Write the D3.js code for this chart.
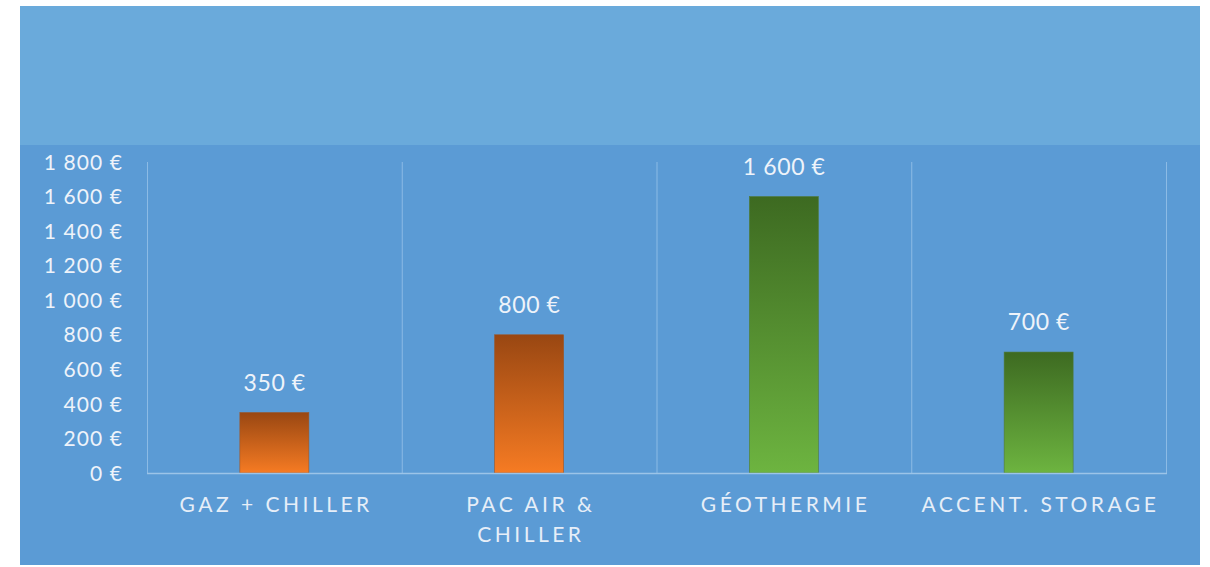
<!DOCTYPE html>
<html><head><meta charset="utf-8">
<script src="https://cdn.jsdelivr.net/npm/d3@7"></script>
<style>html,body{margin:0;padding:0;background:#fff;}svg{display:block;}</style>
</head><body>
<svg id="chart" width="1210" height="567"></svg>
<script>
const categories = [["GAZ + CHILLER"], ["PAC AIR &", "CHILLER"], ["GÉOTHERMIE"], ["ACCENT. STORAGE"]];
const values = [350, 800, 1600, 700];
const barColors = ["orange", "orange", "green", "green"];
const yTicks = [0, 200, 400, 600, 800, 1000, 1200, 1400, 1600, 1800];

const svg = d3.select("#chart");
const locale = d3.formatLocale({decimal: ",", thousands: " ", grouping: [3], currency: ["", " €"]});
const fmt = v => locale.format(",")(v) + " €";
const FONT = "Lato, 'Open Sans', sans-serif";

// backgrounds
svg.append("rect").attr("x", 20).attr("y", 6).attr("width", 1180).attr("height", 559).attr("fill", "#5b9bd5");
svg.append("rect").attr("x", 20).attr("y", 6).attr("width", 1180).attr("height", 139).attr("fill", "#6aaadb");

const defs = svg.append("defs");
const grads = {orange: ["#994712", "#f67b23"], green: ["#3d6a21", "#6db440"]};
Object.entries(grads).forEach(([k, c]) => {
  const g = defs.append("linearGradient").attr("id", "g-" + k).attr("x1", 0).attr("y1", 0).attr("x2", 0).attr("y2", 1);
  g.append("stop").attr("offset", "0%").attr("stop-color", c[0]);
  g.append("stop").attr("offset", "100%").attr("stop-color", c[1]);
});

const x0 = 147, x1 = 1166, yBottom = 473, yTop = 162;
const x = d3.scaleBand().domain(d3.range(categories.length)).range([x0, x1]).paddingInner(0).paddingOuter(0);
const y = d3.scaleLinear().domain([0, 1800]).range([yBottom, yTop]);

// vertical gridlines at category boundaries
const bounds = d3.range(categories.length + 1).map(i => x0 + i * x.step());
svg.append("g").selectAll("line").data(bounds).join("line")
  .attr("x1", d => d + 0.5).attr("x2", d => d + 0.5).attr("y1", yTop).attr("y2", yBottom)
  .attr("stroke", "#8cbbe5").attr("stroke-width", 1);

// y axis labels
const yAxis = d3.axisLeft(y).tickValues(yTicks).tickFormat(fmt).tickSize(0).tickPadding(0);
const ya = svg.append("g").attr("transform", `translate(122,0)`).call(yAxis);
ya.select(".domain").remove();
ya.selectAll("text").attr("fill", "#eef3fa").attr("font-family", FONT).attr("font-size", 21)
  .attr("letter-spacing", "1.1px").attr("dx", "1.1px").attr("dy", "0.34em");

// bars
const bw = 69;
svg.append("g").selectAll("rect").data(values).join("rect")
  .attr("x", (d, i) => x(i) + x.bandwidth() / 2 - bw / 2)
  .attr("y", d => y(d))
  .attr("width", bw)
  .attr("height", d => yBottom - y(d))
  .attr("fill", (d, i) => `url(#g-${barColors[i]})`)
  .attr("stroke", (d, i) => barColors[i] === "orange" ? "#9a5628" : "#4f7a3a").attr("stroke-width", 0.6);

// x axis line
svg.append("line").attr("x1", x0).attr("x2", x1 + 1).attr("y1", yBottom + 0.5).attr("y2", yBottom + 0.5)
  .attr("stroke", "#9cc4e8").attr("stroke-width", 1.5);

// data labels
svg.append("g").selectAll("text").data(values).join("text")
  .attr("x", (d, i) => x(i) + x.bandwidth() / 2)
  .attr("y", d => y(d) - 22)
  .attr("text-anchor", "middle")
  .attr("fill", "#eef3fa").attr("font-family", FONT).attr("font-size", 23)
  .attr("letter-spacing", "0.6px").attr("dx", "0.3px")
  .text(d => fmt(d));

// category labels
const LS = 3.5;
const cg = svg.append("g").selectAll("text").data(categories).join("text")
  .attr("x", (d, i) => x(i) + x.bandwidth() / 2 + LS / 2)
  .attr("y", 512)
  .attr("text-anchor", "middle")
  .attr("fill", "#e6eef8").attr("font-family", FONT).attr("font-size", 21)
  .attr("letter-spacing", LS + "px");
cg.each(function(d) {
  const t = d3.select(this);
  d.forEach((line, j) => {
    t.append("tspan").attr("x", t.attr("x")).attr("dy", j === 0 ? 0 : 30).text(line);
  });
});
</script>
</body></html>
